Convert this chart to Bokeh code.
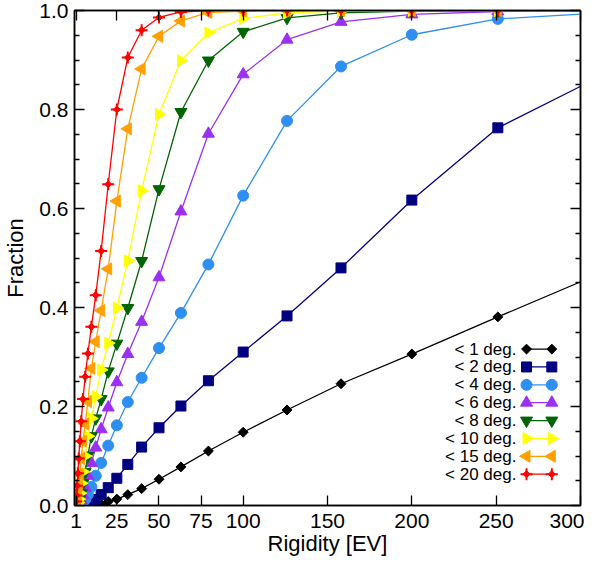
import math
from bokeh.plotting import figure
from bokeh.models import (Range1d, FixedTicker, LinearAxis, PrintfTickFormatter,
                          CustomJSTickFormatter)
from bokeh.core.properties import value
from bokeh.embed import file_html
from bokeh.resources import INLINE

# rigidity samples (log spaced, 10 per decade)
rigidity = [1.0, 1.26, 1.58, 2.0, 2.51, 3.16, 3.98, 5.01, 6.31, 7.94, 10.0, 12.6, 15.8,
            20.0, 25.1, 31.6, 39.8, 50.1, 63.1, 79.4, 100.0, 126.0, 158.0, 200.0, 251.0, 316.0]

frac_1deg = [0, 0, 0, 0, 0, 0, 0, 0, 0, 0, 0.0, 0.001, 0.003, 0.008, 0.013, 0.022, 0.034,
             0.053, 0.078, 0.110, 0.148, 0.193, 0.246, 0.306, 0.381, 0.475]
frac_2deg = [0, 0, 0, 0, 0, 0, 0, 0, 0.001, 0.003, 0.005, 0.012, 0.022, 0.036, 0.055, 0.083,
             0.118, 0.157, 0.201, 0.252, 0.310, 0.383, 0.480, 0.617, 0.763, 0.874]
frac_4deg = [0, 0, 0, 0, 0.001, 0.001, 0.003, 0.006, 0.012, 0.022, 0.038, 0.060, 0.086, 0.121,
             0.162, 0.209, 0.258, 0.318, 0.389, 0.487, 0.626, 0.777, 0.887, 0.951, 0.983, 0.996]
frac_6deg = [0, 0, 0, 0.001, 0.003, 0.005, 0.011, 0.020, 0.036, 0.060, 0.086, 0.117, 0.154,
             0.198, 0.249, 0.306, 0.371, 0.461, 0.594, 0.751, 0.871, 0.941, 0.977, 0.992, 0.998, 1.0]
frac_8deg = [0, 0, 0.001, 0.003, 0.006, 0.013, 0.025, 0.045, 0.068, 0.101, 0.140, 0.176, 0.215,
             0.271, 0.327, 0.399, 0.494, 0.639, 0.795, 0.899, 0.957, 0.985, 0.995, 0.999, 1.0, 1.0]
frac_10deg = [0, 0.001, 0.003, 0.006, 0.013, 0.025, 0.045, 0.068, 0.100, 0.140, 0.176, 0.220,
              0.274, 0.328, 0.399, 0.494, 0.636, 0.790, 0.899, 0.955, 0.984, 0.995, 0.999, 1.0, 1.0, 1.0]
frac_15deg = [0.002, 0.005, 0.011, 0.022, 0.040, 0.063, 0.095, 0.130, 0.165, 0.210, 0.277, 0.331,
              0.394, 0.478, 0.615, 0.761, 0.882, 0.948, 0.979, 0.996, 0.999, 1.0, 1.0, 1.0, 1.0, 1.0]
frac_20deg = [0.008, 0.020, 0.040, 0.065, 0.095, 0.130, 0.170, 0.215, 0.260, 0.307, 0.361, 0.425,
              0.514, 0.649, 0.800, 0.905, 0.960, 0.986, 0.997, 1.0, 1.0, 1.0, 1.0, 1.0, 1.0, 1.0]

labels = ["< 1 deg.", "< 2 deg.", "< 4 deg.", "< 6 deg.", "< 8 deg.", "< 10 deg.",
          "< 15 deg.", "< 20 deg."]

x_ticks = [1, 25, 50, 75, 100, 150, 200, 250, 300]
y_ticks = [0.0, 0.2, 0.4, 0.6, 0.8, 1.0]
y_minor = [0.05, 0.1, 0.15, 0.25, 0.3, 0.35, 0.45, 0.5, 0.55, 0.65, 0.7, 0.75, 0.85, 0.9, 0.95]

FONT = "Liberation Sans"

# (values, colour, marker, size, angle)
series = [
    (frac_1deg, "#000000", "square", 7, math.pi / 4),
    (frac_2deg, "#000080", "square", 10, 0.0),
    (frac_4deg, "#2E8FF0", "circle", 11, 0.0),
    (frac_6deg, "#9B30F0", "triangle", 12, 0.0),
    (frac_8deg, "#006400", "inverted_triangle", 12, 0.0),
    (frac_10deg, "#FFFF00", "triangle", 12, -math.pi / 2),
    (frac_15deg, "#FFA000", "triangle", 12, math.pi / 2),
    (frac_20deg, "#FF0000", "star4", 11, 0.0),
]

p = figure(width=584, height=558, x_range=Range1d(0, 300), y_range=Range1d(0, 1.0),
           output_backend="svg", toolbar_location=None,
           min_border_left=68, min_border_right=4, min_border_top=10, min_border_bottom=40)
p.xgrid.visible = False
p.ygrid.visible = False
p.outline_line_color = "black"
p.outline_line_width = 1.5
p.background_fill_color = "white"


def draw_marker(xs, ys, color, marker, size, angle):
    if marker == "star4":
        # four pointed star: thin cross with a small diamond centre
        p.scatter(xs, ys, marker="cross", size=size + 1, line_color=color, line_width=2)
        p.scatter(xs, ys, marker="square", size=5, angle=math.pi / 4,
                  fill_color=color, line_color=color)
    else:
        p.scatter(xs, ys, marker=marker, size=size, angle=angle,
                  fill_color=color, line_color=color)


for vals, color, marker, size, angle in series:
    p.line(rigidity, vals, line_color=color, line_width=1.3)
    draw_marker(rigidity, vals, color, marker, size, angle)

# legend, text right aligned before a marker-line-marker sample
leg_text_x = 262
leg_x0, leg_x1 = 268, 283
leg_y0, leg_dy = 0.316, 0.0361
for k, (vals, color, marker, size, angle) in enumerate(series):
    ly = leg_y0 - k * leg_dy
    p.text(x=[leg_text_x], y=[ly], text=[labels[k]], text_align="right",
           text_baseline="middle", text_font=value(FONT), text_font_size="17px",
           text_color="black")
    p.line([leg_x0, leg_x1], [ly, ly], line_color=color, line_width=1.3)
    draw_marker([leg_x0, leg_x1], [ly, ly], color, marker, size, angle)

xticker = FixedTicker(ticks=x_ticks, minor_ticks=[])
yticker = FixedTicker(ticks=y_ticks, minor_ticks=y_minor)


def style_axis(ax, ticker, show_labels):
    ax.ticker = ticker
    ax.axis_line_color = "black"
    ax.axis_line_width = 1.5
    ax.major_tick_line_color = "black"
    ax.major_tick_line_width = 1.3
    ax.minor_tick_line_color = "black"
    ax.minor_tick_line_width = 1.3
    ax.major_tick_in = 10
    ax.major_tick_out = 0
    ax.minor_tick_in = 5
    ax.minor_tick_out = 0
    if show_labels:
        ax.major_label_text_font = FONT
        ax.major_label_text_font_size = "21px"
        ax.major_label_text_color = "black"
        ax.axis_label_text_font = FONT
        ax.axis_label_text_font_size = "22px"
        ax.axis_label_text_font_style = "normal"
        ax.axis_label_text_color = "black"
    else:
        # mirrored axis: ticks only
        ax.formatter = CustomJSTickFormatter(code="return ''")
        ax.major_label_standoff = 0


style_axis(p.xaxis[0], xticker, True)
p.xaxis[0].axis_label = "Rigidity [EV]"
p.xaxis[0].major_label_standoff = 8
p.xaxis[0].axis_label_standoff = 0

style_axis(p.yaxis[0], yticker, True)
p.yaxis[0].axis_label = "Fraction"
p.yaxis[0].formatter = PrintfTickFormatter(format="%.1f")
p.yaxis[0].major_label_standoff = 6
p.yaxis[0].axis_label_standoff = 8

top_axis = LinearAxis()
style_axis(top_axis, xticker, False)
p.add_layout(top_axis, "above")

right_axis = LinearAxis()
style_axis(right_axis, yticker, False)
p.add_layout(right_axis, "right")

open("out.html", "w").write(file_html(p, INLINE))
